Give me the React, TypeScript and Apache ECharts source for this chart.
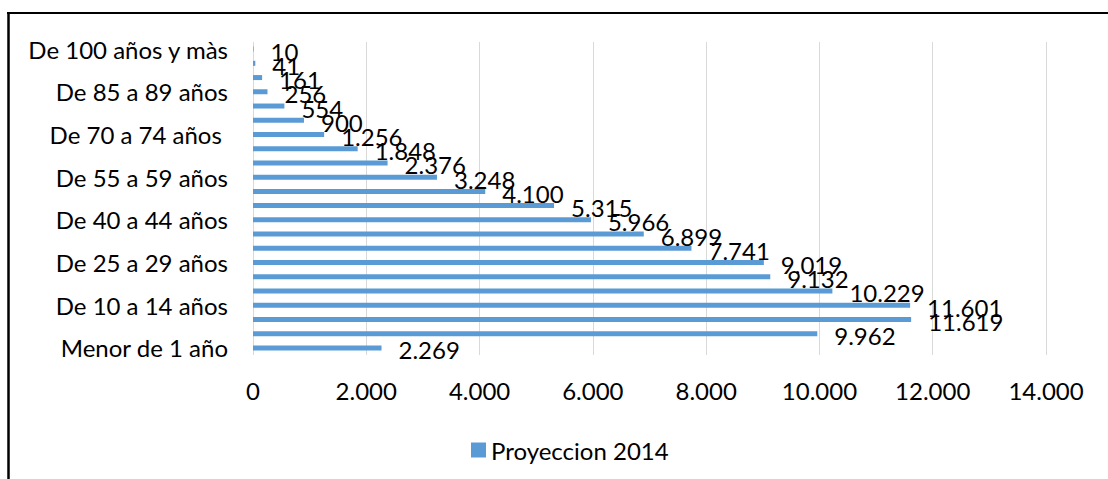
import React, { useEffect, useRef } from "react";
import * as echarts from "echarts";

const categories = [
  "Menor de 1 año",
  "De 1 a 4 años",
  "De 5 a 9 años",
  "De 10 a 14 años",
  "De 15 a 19 años",
  "De 20 a 24 años",
  "De 25 a 29 años",
  "De 30 a 34 años",
  "De 35 a 39 años",
  "De 40 a 44 años",
  "De 45 a 49 años",
  "De 50 a 54 años",
  "De 55 a 59 años",
  "De 60 a 64 años",
  "De 65 a 69 años",
  "De 70 a 74 años ",
  "De 75 a 79 años",
  "De 80 a 84 años",
  "De 85 a 89 años",
  "De 90 a 94 años",
  "De 95 a 99 años",
  "De 100 años y màs",
];

const values2014 = [
  2269, 9962, 11619, 11601, 10229, 9132, 9019, 7741, 6899, 5966, 5315, 4100,
  3248, 2376, 1848, 1256, 900, 554, 256, 161, 41, 10,
];

const seriesName = "Proyeccion 2014";
const xTicks = { min: 0, max: 14000, interval: 2000 };

const fmt = (v: number) =>
  String(Math.round(v)).replace(/\B(?=(\d{3})+(?!\d))/g, ".");

const FONT = "Lato";
const FS = 24;

export default function App() {
  const ref = useRef<HTMLDivElement>(null);
  useEffect(() => {
    if (!ref.current) return;
    const chart = echarts.init(ref.current, undefined, { renderer: "svg" });
    chart.setOption({
      animation: false,
      backgroundColor: "#ffffff",
      textStyle: { fontFamily: FONT },
      graphic: [
        {
          type: "line",
          shape: { x1: 7, y1: 13, x2: 1108, y2: 13 },
          style: { stroke: "#000", lineWidth: 2 },
        },
        {
          type: "line",
          shape: { x1: 8.5, y1: 12, x2: 8.5, y2: 479 },
          style: { stroke: "#000", lineWidth: 2.5 },
        },
      ],
      grid: { left: 253, right: 62, top: 42, bottom: 124, containLabel: false },
      legend: {
        data: [seriesName],
        left: 466,
        top: 433,
        icon: "rect",
        itemWidth: 15,
        itemHeight: 15,
        itemGap: 10,
        textStyle: { fontSize: FS, color: "#000", fontFamily: FONT },
      },
      xAxis: {
        type: "value",
        min: xTicks.min,
        max: xTicks.max,
        interval: xTicks.interval,
        axisLine: { show: false },
        axisTick: { show: false },
        splitLine: { show: true, lineStyle: { color: "#d9d9d9", width: 1 } },
        axisLabel: {
          fontSize: FS,
          color: "#000",
          margin: 23,
          fontFamily: FONT,
          formatter: (v: number) => fmt(v),
        },
      },
      yAxis: {
        type: "category",
        data: categories,
        axisLine: { show: false },
        axisTick: { show: false },
        axisLabel: {
          interval: 2,
          fontSize: FS,
          color: "#000",
          margin: 25,
          fontFamily: FONT,
        },
      },
      series: [
        {
          name: seriesName,
          type: "bar",
          data: values2014,
          barWidth: 5,
          itemStyle: { color: "#5B9BD5" },
          label: {
            show: true,
            position: "right",
            distance: 17,
            offset: [0, 2],
            fontSize: FS,
            color: "#000",
            fontFamily: FONT,
            formatter: (p: any) => fmt(p.value),
          },
        },
      ],
    });
    return () => chart.dispose();
  }, []);
  return (
    <div
      ref={ref}
      style={{ position: "fixed", left: 0, top: 0, width: 1108, height: 479 }}
    />
  );
}
